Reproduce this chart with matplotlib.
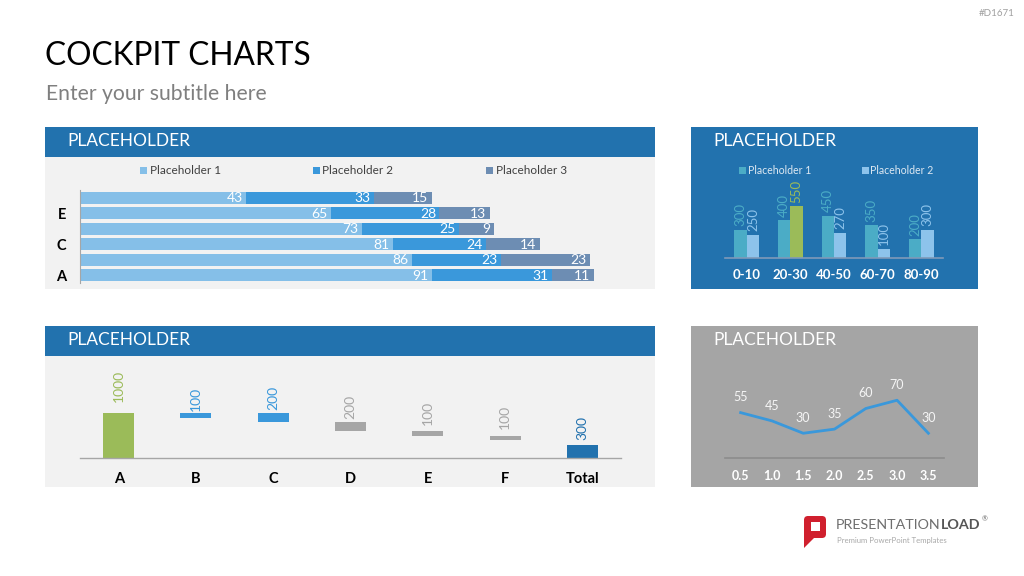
import matplotlib
matplotlib.use('Agg')
import numpy as np
import matplotlib.pyplot as plt
from matplotlib.patches import Rectangle, FancyBboxPatch, Polygon

plt.rcParams['font.family'] = ['Lato', 'DejaVu Sans']

# ---------------- data ----------------
title = "COCKPIT CHARTS"
subtitle = "Enter your subtitle here"
panel_title = "PLACEHOLDER"

# top-left stacked horizontal bars
hb_categories = ['A', 'B', 'C', 'D', 'E', 'F']
hb_series = ['Placeholder 1', 'Placeholder 2', 'Placeholder 3']
hb_p1 = [91, 86, 81, 73, 65, 43]
hb_p2 = [31, 23, 24, 25, 28, 33]
hb_p3 = [11, 23, 14, 9, 13, 15]

# top-right grouped columns
cb_categories = ['0-10', '20-30', '40-50', '60-70', '80-90']
cb_series = ['Placeholder 1', 'Placeholder 2']
cb_s1 = [300, 400, 450, 350, 200]
cb_s2 = [250, 550, 270, 100, 300]

# bottom-left waterfall
wf_categories = ['A', 'B', 'C', 'D', 'E', 'F', 'Total']
wf_values = [1000, 100, 200, 200, 100, 100, 300]
wf_bases = [0, 900, 800, 600, 500, 400, 0]

# bottom-right line
ln_categories = ['0.5', '1.0', '1.5', '2.0', '2.5', '3.0', '3.5']
ln_values = [55, 45, 30, 35, 60, 70, 30]

# ---------------- style ----------------
HB = '#2272AE'
PANEL = '#F2F2F2'
C1, C2, C3 = '#85BFE8', '#3A98DB', '#6D8DB3'
TEAL, LBLUE, GREEN = '#4BACC6', '#8DC3EB', '#9BBB59'
GRAY = '#A6A6A6'

W, H = 1024, 576
fig = plt.figure(figsize=(10.24, 5.76), dpi=100)
fig.patch.set_facecolor('white')
renderer = fig.canvas.get_renderer()


def ax_px(x0, y0, x1, y1, z=2):
    a = fig.add_axes([x0 / W, 1 - y1 / H, (x1 - x0) / W, (y1 - y0) / H], zorder=z)
    a.patch.set_alpha(0)
    return a


bg = fig.add_axes([0, 0, 1, 1], zorder=0)
bg.set_xlim(0, W)
bg.set_ylim(H, 0)
bg.axis('off')


def fit_text(x, y, s, width_px, fs=12, **kw):
    t = bg.text(x, y, s, fontsize=fs, **kw)
    w = t.get_window_extent(renderer).width
    t.set_fontsize(fs * width_px / w)
    return t


# panels
bg.add_patch(Rectangle((45, 127), 610, 162, color=PANEL, lw=0))
bg.add_patch(Rectangle((45, 127), 610, 30, color=HB, lw=0))
bg.add_patch(Rectangle((691, 127), 287, 162, color=HB, lw=0))
bg.add_patch(Rectangle((45, 326), 610, 161, color=PANEL, lw=0))
bg.add_patch(Rectangle((45, 326), 610, 30, color=HB, lw=0))
bg.add_patch(Rectangle((691, 326), 287, 161, color='#A5A5A5', lw=0))

# titles
fit_text(45, 56, title, 266, fs=26, color='black', va='center', ha='left')
fit_text(46, 94, subtitle, 221, fs=15, color='#7F7F7F', va='center', ha='left')
for (x, y) in [(67, 141), (713, 141), (67, 340), (713, 340)]:
    fit_text(x, y, panel_title, 123, fs=15, color='white', va='center', ha='left')

bg.text(1015, 13, '#D1671', fontsize=7, color='#A0A0A0', ha='right', va='center')

# ---------------- top-left stacked horizontal bars ----------------
for (mx, name, col) in zip([140, 313, 486], hb_series, [C1, C2, C3]):
    bg.add_patch(Rectangle((mx, 167), 7, 7, color=col, lw=0))
    bg.text(mx + 9.5, 170.5, name, fontsize=8.5, color='#404040', va='center', ha='left')

ax1 = ax_px(80, 190, 640, 283)
y = np.arange(len(hb_categories))
p1 = np.array(hb_p1)
p2 = np.array(hb_p2)
p3 = np.array(hb_p3)
lefts = [np.zeros_like(p1), p1, p1 + p2]
for vals, left, col in zip([p1, p2, p3], lefts, [C1, C2, C3]):
    ax1.barh(y, vals, left=left, height=0.76, color=col, lw=0)
    for yi, v, l in zip(y, vals, left):
        ax1.annotate(str(v), xy=(l + v, yi), xytext=(-2.5, -0.5), textcoords='offset points',
                     ha='right', va='center', color='white', fontsize=10)
ax1.set_xlim(0, 560 / 3.865)
ax1.set_ylim(-0.5, len(hb_categories) - 0.5)
ax1.set_xticks([])
ax1.set_yticks(y[::2])
ax1.set_yticklabels(hb_categories[::2], fontsize=10.5, fontweight='bold', color='black')
ax1.tick_params(axis='y', length=0, pad=10)
for s in ['top', 'right', 'bottom']:
    ax1.spines[s].set_visible(False)
ax1.spines['left'].set_color(GRAY)
ax1.spines['left'].set_linewidth(0.8)

# ---------------- top-right grouped columns ----------------
for (mx, name, col) in zip([739, 862], cb_series, [TEAL, LBLUE]):
    bg.add_patch(Rectangle((mx, 167), 6.5, 6.5, color=col, lw=0))
    bg.text(mx + 8.5, 170.5, name, fontsize=7.6, color='#DDE8F2', va='center', ha='left')

ax2 = ax_px(725, 164, 943, 258)
x = np.arange(len(cb_categories))
bw = 0.285
s2_colors = [LBLUE, GREEN, LBLUE, LBLUE, LBLUE]
ax2.bar(x - bw / 2, cb_s1, width=bw, color=TEAL, lw=0)
ax2.bar(x + bw / 2, cb_s2, width=bw, color=s2_colors, lw=0)
for xi, v in zip(x, cb_s1):
    ax2.annotate(str(v), xy=(xi - bw / 2, v), xytext=(0, 2.5), textcoords='offset points',
                 ha='center', va='bottom', rotation=90, color=TEAL, fontsize=9.5)
for xi, v, c in zip(x, cb_s2, s2_colors):
    ax2.annotate(str(v), xy=(xi + bw / 2, v), xytext=(0, 2.5), textcoords='offset points',
                 ha='center', va='bottom', rotation=90, color=c, fontsize=9.5)
ax2.set_xlim(-0.5, len(cb_categories) - 0.5)
ax2.set_ylim(0, 1000)
ax2.set_yticks([])
ax2.set_xticks(x)
ax2.set_xticklabels(cb_categories, fontsize=9.5, fontweight='bold', color='white')
ax2.tick_params(axis='x', length=0, pad=8)
for s in ['top', 'right', 'left']:
    ax2.spines[s].set_visible(False)
ax2.spines['bottom'].set_color('#7F99B8')
ax2.spines['bottom'].set_linewidth(1.2)

# ---------------- bottom-left waterfall ----------------
ax3 = ax_px(80, 368, 621, 458)
x = np.arange(len(wf_categories))
wf_colors = [GREEN, C2, C2, GRAY, GRAY, GRAY, HB]
ax3.bar(x, wf_values, bottom=wf_bases, width=0.4, color=wf_colors, lw=0)
wf_pads = [8, 1.5, 2, 2, 4, 5, 3]
for xi, v, b, c, p in zip(x, wf_values, wf_bases, wf_colors, wf_pads):
    ax3.annotate(str(v), xy=(xi, b + v), xytext=(0, p), textcoords='offset points',
                 ha='center', va='bottom', rotation=90, color=c, fontsize=10)
ax3.set_xlim(-0.5, len(wf_categories) - 0.5)
ax3.set_ylim(0, 2000)
ax3.set_yticks([])
ax3.set_xticks(x)
ax3.set_xticklabels(wf_categories, fontsize=10.5, fontweight='bold', color='black')
ax3.tick_params(axis='x', length=0, pad=10)
for s in ['top', 'right', 'left']:
    ax3.spines[s].set_visible(False)
ax3.spines['bottom'].set_color(GRAY)
ax3.spines['bottom'].set_linewidth(1.0)

# ---------------- bottom-right line ----------------
ax4 = ax_px(725, 375.5, 944, 458)
x = np.arange(len(ln_categories))
ax4.plot(x, ln_values, color=C2, lw=2.0, solid_joinstyle='round')
for xi, v in zip(x, ln_values):
    ax4.annotate(str(v), xy=(xi, v), xytext=(0, 11), textcoords='offset points',
                 ha='center', va='center', color='#F5F5F5', fontsize=9)
ax4.set_xlim(-0.5, len(ln_categories) - 0.5)
ax4.set_ylim(0, 100)
ax4.set_yticks([])
ax4.set_xticks(x)
ax4.set_xticklabels(ln_categories, fontsize=9, fontweight='bold', color='white')
ax4.tick_params(axis='x', length=0, pad=9)
for s in ['top', 'right', 'left']:
    ax4.spines[s].set_visible(False)
ax4.spines['bottom'].set_color('#8C8C8C')
ax4.spines['bottom'].set_linewidth(1.2)

# ---------------- logo ----------------
bg.add_patch(FancyBboxPatch((804, 516), 22, 22, boxstyle='round,pad=0,rounding_size=4',
                            color='#D0202E', lw=0))
bg.add_patch(Polygon([(804, 530), (804, 548), (815, 537)], closed=True, color='#D0202E', lw=0))
bg.add_patch(Rectangle((811, 522), 9, 8.5, color='white', lw=0))
fs_logo = 12
t1 = bg.text(836, 525, 'PRESENTATION', fontsize=fs_logo, color='#6E6E6E', va='center', ha='left')
t2 = bg.text(900, 525, 'LOAD', fontsize=fs_logo, color='#555555', va='center', ha='left',
             fontweight='bold')
w1 = t1.get_window_extent(renderer).width
w2 = t2.get_window_extent(renderer).width
k = 144.0 / (w1 + w2)
t1.set_fontsize(fs_logo * k)
t2.set_fontsize(fs_logo * k)
t2.set_x(836 + w1 * k)
bg.text(836 + (w1 + w2) * k + 1.5, 519, '®', fontsize=5, color='#6E6E6E', va='center', ha='left')
bg.text(837, 540, 'Premium PowerPoint Templates', fontsize=5.6, color='#A8A8A8', va='center', ha='left')

fig.savefig('out.png', dpi=100)
